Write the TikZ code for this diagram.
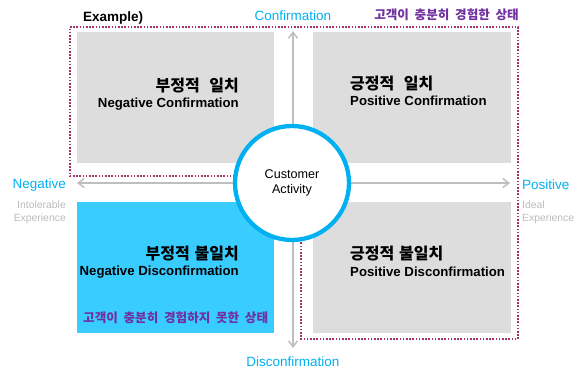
\documentclass[tikz,border=0pt]{standalone}
\usepackage{fontspec}
\setmainfont{Liberation Sans}
\newfontfamily\kr{Noto Sans CJK KR}
\usetikzlibrary{arrows.meta}

\definecolor{axisblue}{HTML}{00B0F0}
\definecolor{boxgray}{HTML}{DDDDDD}
\definecolor{boxblue}{HTML}{38CCFF}
\definecolor{arrowgray}{HTML}{BFBFBF}
\definecolor{dotred}{HTML}{A3346B}
\definecolor{notepurple}{HTML}{7030A0}
\definecolor{hintgray}{HTML}{BBBBBB}

\tikzstyle{quad} = [rectangle, fill=boxgray, minimum width=197pt, minimum height=131pt, inner sep=0pt]
\tikzstyle{krtitle} = [inner sep=0pt, font=\kr\bfseries\fontsize{16}{18}\selectfont]
\tikzstyle{entitle} = [inner sep=0pt, font=\bfseries\fontsize{13.2}{15}\selectfont]
\tikzstyle{axislabel} = [inner sep=0pt, text=axisblue, font=\fontsize{13.5}{15}\selectfont]
\tikzstyle{hint} = [inner sep=0pt, text=hintgray, font=\fontsize{10.4}{13}\selectfont]
\tikzstyle{note} = [inner sep=0pt, text=notepurple, font=\kr\bfseries\fontsize{12.6}{14}\selectfont]

% wider word gaps for the Korean lines
\newcommand{\krgap}{\hspace{0.3em}}
\newcommand{\notegap}{\hspace{0.45em}}

\begin{document}
\begin{tikzpicture}[x=1pt, y=-1pt]
        \tikzset{axis/.style={draw=arrowgray, line width=1.5pt, {Straight Barb[length=6pt,width=9pt]}-{Straight Barb[length=6pt,width=9pt]}}}
        \useasboundingbox (0,0) rectangle (581,372);

        % four quadrants
        \node (nc) at (175.5,97.5) [quad] {};
        \node (pc) at (412,97.5) [quad, minimum width=198pt] {};
        \node (nd) at (175.5,267.5) [quad, fill=boxblue] {};
        \node (pd) at (412,267.5) [quad, minimum width=198pt] {};

        % quadrant titles
        \node (nckr) at (239,86) [krtitle, anchor=east] {부정적\krgap\krgap 일치};
        \node (ncen) at (239,104) [entitle, anchor=east] {Negative Confirmation};
        \node (pckr) at (350,84) [krtitle, anchor=west] {긍정적\krgap\krgap 일치};
        \node (pcen) at (350,101) [entitle, anchor=west] {Positive Confirmation};
        \node (ndkr) at (239,254) [krtitle, anchor=east] {부정적\krgap 불일치};
        \node (nden) at (239,272) [entitle, anchor=east] {Negative Disconfirmation};
        \node (pdkr) at (350,254) [krtitle, anchor=west] {긍정적\krgap 불일치};
        \node (pden) at (350,272) [entitle, anchor=west] {Positive Disconfirmation};
        \node (ndnote) at (83,318) [note, anchor=west] {고객이\notegap 충분히\notegap 경험하지\notegap 못한\notegap 상태};

        % experienced region
        \draw[dotred, line width=1.8pt, dash pattern=on 1.6pt off 1.6pt]
            (70,27) -- (518,27) -- (518,339) -- (301,339) -- (301,176) -- (70,176) -- cycle;
        \node (expnote) at (519,15) [note, anchor=east] {고객이\notegap 충분히\notegap 경험한\notegap 상태};
        \node (example) at (83,18) [inner sep=0pt, anchor=west, font=\bfseries\fontsize{13.5}{15}\selectfont] {Example)};

        % axes
        \coordinate (negend) at (77,183);
        \coordinate (posend) at (510,183);
        \coordinate (conend) at (293,31);
        \coordinate (disend) at (293,348);
        \draw[axis] (negend) -- (posend);
        \draw[axis] (disend) -- (conend);

        % centre
        \node (act) at (292,183) [circle, draw=axisblue, line width=4.3pt, fill=white, minimum size=114pt, align=center, font=\fontsize{12.6}{15}\selectfont] {Customer\\Activity};

        % axis labels
        \node (conf) at (293,16) [axislabel] {Confirmation};
        \node (disc) at (293,362) [axislabel] {Disconfirmation};
        \node (neg) at (66,185) [axislabel, anchor=east] {Negative};
        \node (pos) at (522,185) [axislabel, anchor=west] {Positive};
        \node (intol) at (66,212.5) [hint, anchor=east, align=right] {Intolerable\\Experience};
        \node (ideal) at (522,212.5) [hint, anchor=west, align=left] {Ideal\\Experience};
    \end{tikzpicture}
\end{document}
